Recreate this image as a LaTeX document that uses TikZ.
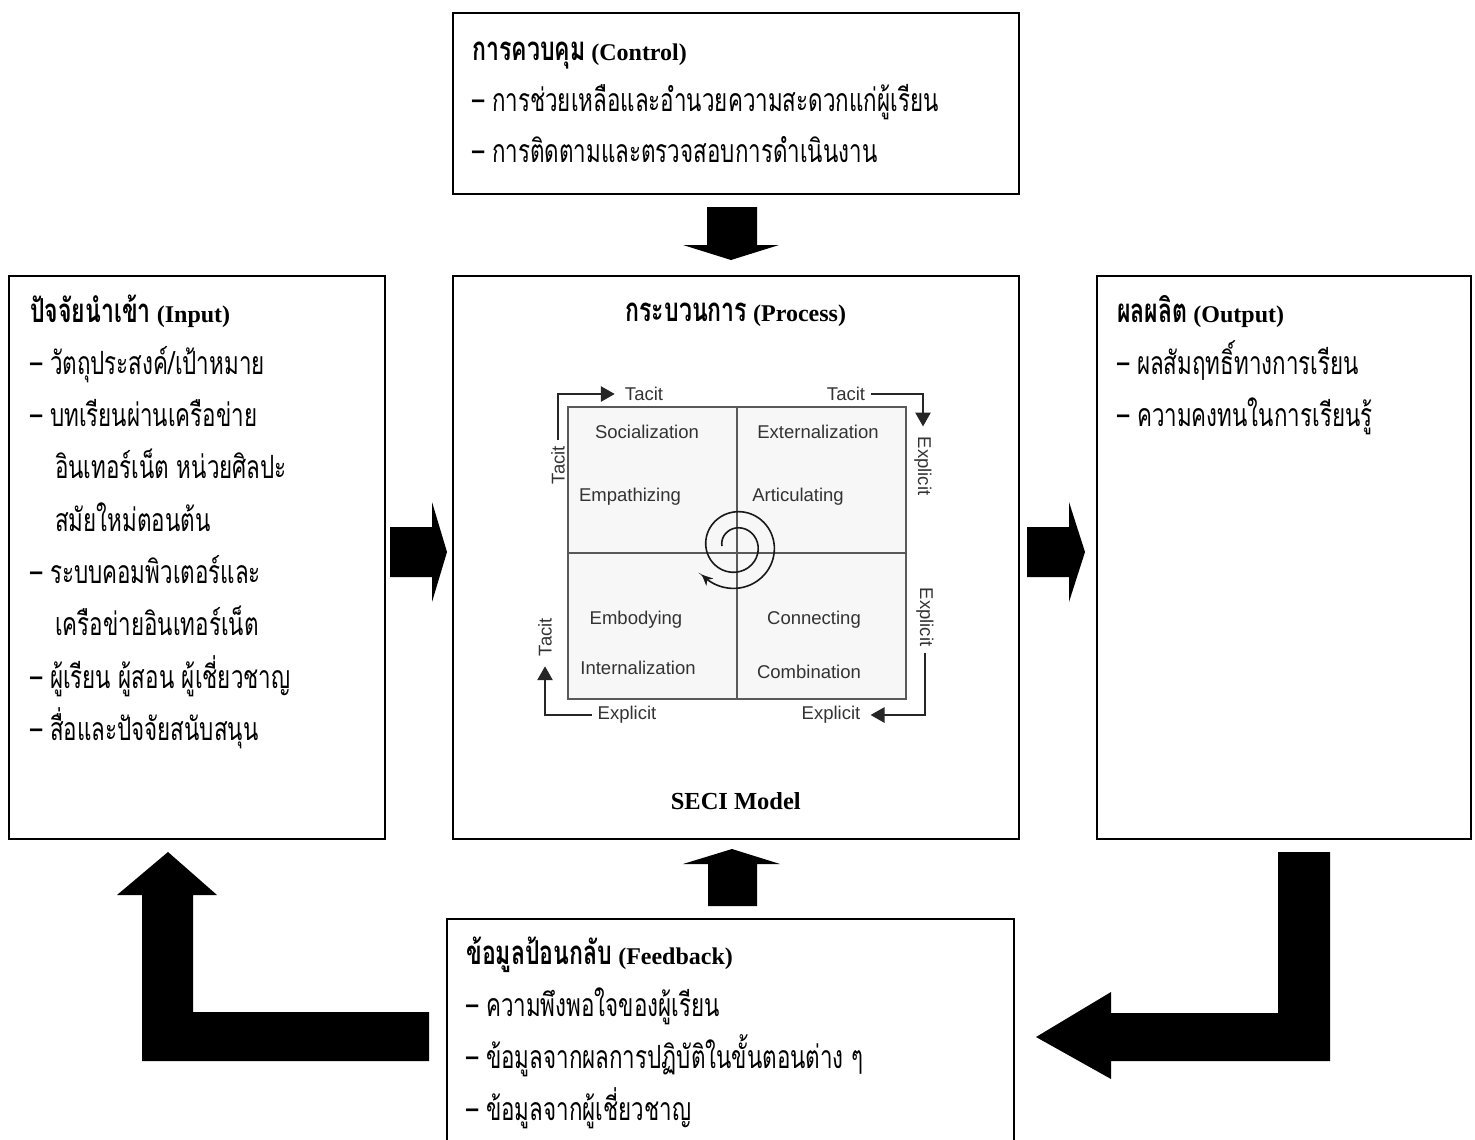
\documentclass[tikz,border=0pt]{standalone}
\usepackage{fontspec}
\setmainfont{Liberation Serif}
\setsansfont{Liberation Sans}
\newfontfamily\thai[Script=Thai,FakeStretch=0.7]{Loma}
\usetikzlibrary{arrows.meta,calc,positioning}

\newcommand{\thaihd}[1]{{\thai\fontsize{33}{38}\selectfont #1}}

\tikzset{
  box/.style={draw, line width=1.6pt, anchor=north west, inner sep=0pt},
  txt/.style={anchor=base west, inner sep=0pt, font=\thai\fontsize{32}{36}\selectfont},
  head/.style={anchor=base west, inner sep=0pt, font=\bfseries\fontsize{24}{30}\selectfont},
  seci/.style={font=\sffamily\fontsize{18.5}{22}\selectfont, text=black!80, inner sep=6pt},
  flow/.style={line width=2.8pt, black!85, -{Triangle[length=14pt,width=15pt]}, shorten >=4pt},
  blockarrow/.style={fill=black}
}

\begin{document}
\begin{tikzpicture}[x=1pt,y=-1pt]
\useasboundingbox (0,0) rectangle (1475,1140);
\clip (0,0) rectangle (1475,1140);

% boxes
\node[box, minimum width=566, minimum height=181] (control) at (452,12) {};
\node[box, minimum width=376, minimum height=563] (input) at (8,275) {};
\node[box, minimum width=566, minimum height=563] (process) at (452,275) {};
\node[box, minimum width=374, minimum height=563] (output) at (1096,275) {};
\node[box, minimum width=567, minimum height=240] (feedback) at (446,918) {};

% control
\node[head] (ctlhead) at ($(control.north west)+(20,48)$) {\thaihd{การควบคุม} (Control)};
\foreach \t [count=\i] in {– การช่วยเหลือและอำนวยความสะดวกแก่ผู้เรียน, – การติดตามและตรวจสอบการดำเนินงาน}
  \node[txt] (ctl\i) at ($(control.north west)+(20,48+51*\i)$) {\t};

% input
\node[head] (inhead) at ($(input.north west)+(22,47)$) {\thaihd{ปัจจัยนำเข้า} (Input)};
\foreach \dx/\t [count=\i] in {22/{– วัตถุประสงค์/เป้าหมาย}, 22/{– บทเรียนผ่านเครือข่าย},
    47/{อินเทอร์เน็ต หน่วยศิลปะ}, 47/{สมัยใหม่ตอนต้น}, 22/{– ระบบคอมพิวเตอร์และ},
    47/{เครือข่ายอินเทอร์เน็ต}, 22/{– ผู้เรียน ผู้สอน ผู้เชี่ยวชาญ}, 22/{– สื่อและปัจจัยสนับสนุน}}
  \node[txt] (in\i) at ($(input.north west)+(\dx,47+52.3*\i)$) {\t};

% output
\node[head] (outhead) at ($(output.north west)+(21,47)$) {\thaihd{ผลผลิต} (Output)};
\foreach \t [count=\i] in {– ผลสัมฤทธิ์ทางการเรียน, – ความคงทนในการเรียนรู้}
  \node[txt] (out\i) at ($(output.north west)+(21,47+52*\i)$) {\t};

% feedback
\node[head] (fbhead) at ($(feedback.north west)+(20,46)$) {\thaihd{ข้อมูลป้อนกลับ} (Feedback)};
\foreach \t [count=\i] in {– ความพึงพอใจของผู้เรียน, – ข้อมูลจากผลการปฏิบัติในขั้นตอนต่าง ๆ, – ข้อมูลจากผู้เชี่ยวชาญ}
  \node[txt] (fb\i) at ($(feedback.north west)+(20,46+52.3*\i)$) {\t};

% process
\node[head, anchor=base] (prochead) at ($(process.north)+(0,46)$) {\thaihd{กระบวนการ} (Process)};
\node[head, anchor=base, font=\bfseries\fontsize{24.5}{30}\selectfont] (seciname) at ($(process.north)+(0,534)$) {SECI Model};

% SECI quadrants
\node[draw=black!65, fill=black!3, line width=1.2pt, minimum width=338, minimum height=292, inner sep=0pt] (quad) at (737,553) {};
\draw[black!65, line width=1.2pt] (quad.north) -- (quad.south) (quad.west) -- (quad.east);

\node[seci] (soc) at (647,432) {Socialization};
\node[seci] (ext) at (818,432) {Externalization};
\node[seci] (emp) at (630,497) {Empathizing};
\node[seci] (art) at (798,497) {Articulating};
\node[seci] (emb) at (636,620) {Embodying};
\node[seci] (con) at (814,620) {Connecting};
\node[seci] (int) at (638,668) {Internalization};
\node[seci] (com) at (809,672) {Combination};

\node[seci] (tT) at (644,394) {Tacit};
\node[seci] (tTR) at (846,394) {Tacit};
\node[seci, rotate=90] (tL) at (558,465) {Tacit};
\node[seci, rotate=-90] (eR1) at (923,466) {Explicit};
\node[seci, rotate=-90] (eR2) at (925,617) {Explicit};
\node[seci] (eB) at (831,715) {Explicit};
\node[seci] (eBL) at (627,715) {Explicit};
\node[seci, rotate=90] (tL2) at (545,637) {Tacit};

\draw[flow] (tL.east) |- (tT.west);
\draw[flow] (tTR.east) -| (eR1.west);
\draw[flow] (eR2.east) |- (eB.east);
\draw[flow] (eBL.west) -| (tL2.west);

% spiral
\draw[line width=1.6pt, black!90, -{Stealth[length=11pt,width=10pt]}]
  plot[smooth, domain=180:860, samples=69, variable=\t]
  ({736+(14+0.045*(\t-180))*cos(\t)}, {546+(14+0.045*(\t-180))*sin(\t)});

% block arrows
\fill[blockarrow] (707,207) -- (757,207) -- (757,245) -- (779,245) -- (731,260) -- (683,245) -- (707,245) -- cycle;
\fill[blockarrow] (708,906) -- (757,906) -- (757,864) -- (780,864) -- (732,849) -- (683,864) -- (708,864) -- cycle;
\fill[blockarrow] (390,527) -- (432,527) -- (432,502) -- (447,552) -- (432,602) -- (432,577) -- (390,577) -- cycle;
\fill[blockarrow] (1027,527) -- (1069,527) -- (1069,502) -- (1085,552) -- (1069,602) -- (1069,577) -- (1027,577) -- cycle;
\fill[blockarrow] (142,1061) -- (429,1061) -- (429,1012) -- (193,1012) -- (193,895) -- (217,895) -- (168,852)
  -- (117,895) -- (142,895) -- cycle;
\fill[blockarrow] (1330,852) -- (1330,1061) -- (1111,1061) -- (1111,1079) -- (1036,1037) -- (1111,992)
  -- (1111,1013) -- (1278,1013) -- (1278,852) -- cycle;
\end{tikzpicture}
\end{document}
